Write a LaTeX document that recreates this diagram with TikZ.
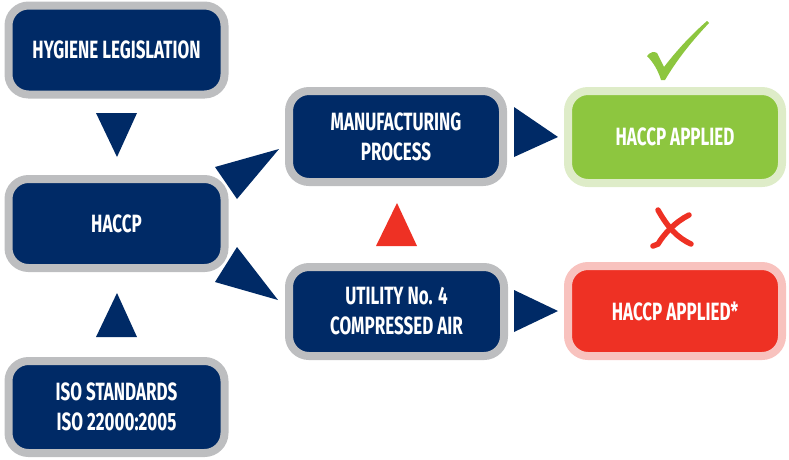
\documentclass[tikz,border=0pt]{standalone}
\usepackage{fontspec}
\setmainfont{Fira Sans}[FakeStretch=0.68]
\definecolor{navy}{RGB}{0,42,102}
\definecolor{rimgray}{RGB}{189,190,192}
\definecolor{okgreen}{RGB}{141,198,63}
\definecolor{okrim}{RGB}{222,236,200}
\definecolor{badred}{RGB}{238,49,36}
\definecolor{badrim}{RGB}{248,194,190}
\tikzset{
  stepbox/.style={draw=rimgray, fill=navy, line width=8pt, rounded corners=20pt,
    minimum width=216pt, minimum height=89pt, text=white, align=center,
    font=\bfseries\fontsize{25}{30}\selectfont, inner sep=0pt},
  okbox/.style={stepbox, draw=okrim, fill=okgreen},
  badbox/.style={stepbox, draw=badrim, fill=badred},
  arrowtri/.style={fill=navy},
}
\begin{document}
\begin{tikzpicture}[x=1pt,y=-1pt]
\useasboundingbox (0,0) rectangle (789,459);
\node[stepbox] (leg) at (116.5,50) {HYGIENE LEGISLATION};
\node[stepbox] (haccp) at (116.5,223.5) {HACCP};
\node[stepbox, minimum height=92pt] (iso) at (116.5,407) {ISO STANDARDS\\ISO 22000:2005};
\node[stepbox, minimum width=214pt, minimum height=91pt] (mfg) at (396,136.5) {MANUFACTURING\\PROCESS};
\node[stepbox, minimum width=215pt] (util) at (396.5,311.5) {UTILITY No. 4\\COMPRESSED AIR};
\node[okbox, minimum width=214pt, minimum height=92pt] (ok) at (675,137) {HACCP APPLIED};
\node[badbox, minimum width=214pt, minimum height=90pt] (bad) at (675,311) {HACCP APPLIED*};
% connectors (triangles)
\coordinate (t1) at (117,113);
\fill[arrowtri] (96,113) -- (137,113) -- (117,157) -- cycle;
\fill[arrowtri] (96,337) -- (137,337) -- (117,293) -- cycle;
\fill[arrowtri] (215,167) -- (279,149) -- (237,199) -- cycle;
\fill[arrowtri] (237,247) -- (215,282) -- (278,300) -- cycle;
\fill[arrowtri] (514,107) -- (514,157) -- (558,137) -- cycle;
\fill[arrowtri] (514,290) -- (514,332) -- (558,311) -- cycle;
\fill[badred] (376,246) -- (417,246) -- (397,203) -- cycle;
% check mark
\fill[okgreen] (647,56) .. controls (650,52) and (654,51) .. (657,53)
  .. controls (659,57) and (662,63) .. (664,67)
  .. controls (677,50) and (692,34) .. (707,21)
  -- (709,23)
  .. controls (693,40) and (678,58) .. (665,80)
  -- (661,80)
  .. controls (658,70) and (653,62) .. (647,56) -- cycle;
% cross mark
\draw[badred, line width=5.5pt, line cap=round] (658,210) .. controls (668,228) and (678,238) .. (691,244);
\draw[badred, line width=5.5pt, line cap=round] (689,215) .. controls (675,222) and (664,234) .. (658,244) -- (653,246);
\end{tikzpicture}
\end{document}
